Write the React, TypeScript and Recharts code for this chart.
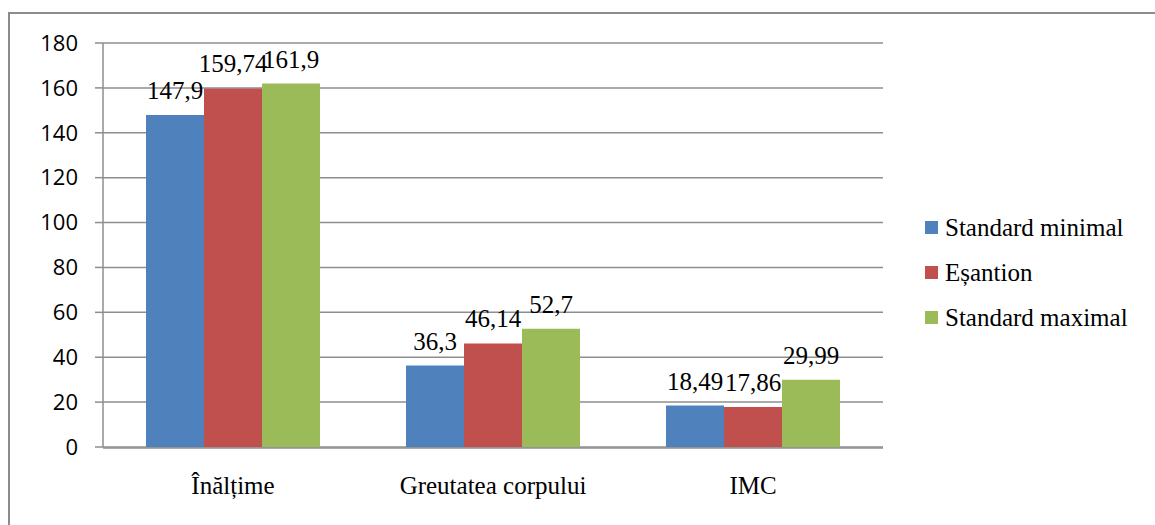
import React from "react";
import { BarChart, Bar, XAxis, YAxis, CartesianGrid, Legend, LabelList } from "recharts";

// Indicatori antropometrici
const categories = ["Înălțime", "Greutatea corpului", "IMC"];
const seriesNames = ["Standard minimal", "Eșantion", "Standard maximal"];
const standardMinimal = [147.9, 36.3, 18.49];
const esantion = [159.74, 46.14, 17.86];
const standardMaximal = [161.9, 52.7, 29.99];
const yTicks = [0, 20, 40, 60, 80, 100, 120, 140, 160, 180];
const edgeTicks = [0, 1, 2, 3];

const data = categories.map((name, i) => ({
  name,
  min: standardMinimal[i],
  esantion: esantion[i],
  max: standardMaximal[i],
}));

const gridColor = "#8e8e8e";
const serif = "Liberation Serif, Tinos, DejaVu Serif, Times New Roman, serif";

const fmt = (v: any) => String(v).replace(".", ",");

const renderLegend = (props: any) => {
  const items = [...(props.payload || [])].sort(
    (a: any, b: any) => seriesNames.indexOf(a.value) - seriesNames.indexOf(b.value)
  );
  return (
    <div style={{ fontFamily: serif, fontSize: 25, color: "#000" }}>
      {items.map((entry: any, index: number) => (
        <div key={`item-${index}`} style={{ display: "flex", alignItems: "center", height: 45 }}>
          <span style={{ width: 13, height: 13, background: entry.color, marginRight: 7, display: "inline-block" }} />
          <span>{entry.value}</span>
        </div>
      ))}
    </div>
  );
};

export default function App() {
  return (
    <div style={{ position: "absolute", left: 0, top: 0, width: 1155, height: 525, background: "#fff", overflow: "hidden" }}>
      <div
        style={{
          position: "absolute",
          left: 8,
          top: 12,
          width: 1200,
          height: 600,
          borderLeft: "2px solid #8c8c8c",
          borderTop: "2px solid #8c8c8c",
        }}
      />
      <BarChart
        width={1155}
        height={525}
        data={data}
        margin={{ top: 43, right: 272, bottom: 76, left: 43 }}
        barCategoryGap={43}
        barGap={0}
        style={{ position: "absolute", left: 0, top: 0 }}
      >
        <CartesianGrid vertical={false} stroke={gridColor} strokeWidth={1.5} />
        <XAxis
          xAxisId="edge"
          type="number"
          domain={[0, 3]}
          ticks={edgeTicks}
          tick={false}
          axisLine={{ stroke: gridColor, strokeWidth: 1.5 }}
          tickSize={8}
          tickLine={{ stroke: gridColor, strokeWidth: 1.5 }}
          height={1}
        />
        <XAxis
          dataKey="name"
          height={1}
          tickLine={false}
          tickSize={8}
          tickMargin={21}
          axisLine={false}
          tick={{ fill: "#000", fontSize: 25, fontFamily: serif }}
        />
        <YAxis
          width={60}
          domain={[0, 180]}
          ticks={yTicks}
          tickSize={8}
          tickMargin={17}
          axisLine={{ stroke: gridColor, strokeWidth: 1.5 }}
          tickLine={{ stroke: gridColor, strokeWidth: 1.5 }}
          tick={{ fill: "#000", fontSize: 22, fontFamily: "Open Sans, sans-serif" }}
        />
        <Legend
          layout="vertical"
          align="center"
          verticalAlign="middle"
          content={renderLegend}
          wrapperStyle={{ left: 925, top: 205, width: 230 }}
        />
        <Bar dataKey="min" name={seriesNames[0]} fill="#4F81BD" isAnimationActive={false}>
          <LabelList dataKey="min" position="top" offset={16} formatter={fmt} fill="#000" fontSize={25} fontFamily={serif} />
        </Bar>
        <Bar dataKey="esantion" name={seriesNames[1]} fill="#C0504D" isAnimationActive={false}>
          <LabelList dataKey="esantion" position="top" offset={16} formatter={fmt} fill="#000" fontSize={25} fontFamily={serif} />
        </Bar>
        <Bar dataKey="max" name={seriesNames[2]} fill="#9BBB59" isAnimationActive={false}>
          <LabelList dataKey="max" position="top" offset={16} formatter={fmt} fill="#000" fontSize={25} fontFamily={serif} />
        </Bar>
      </BarChart>
    </div>
  );
}
